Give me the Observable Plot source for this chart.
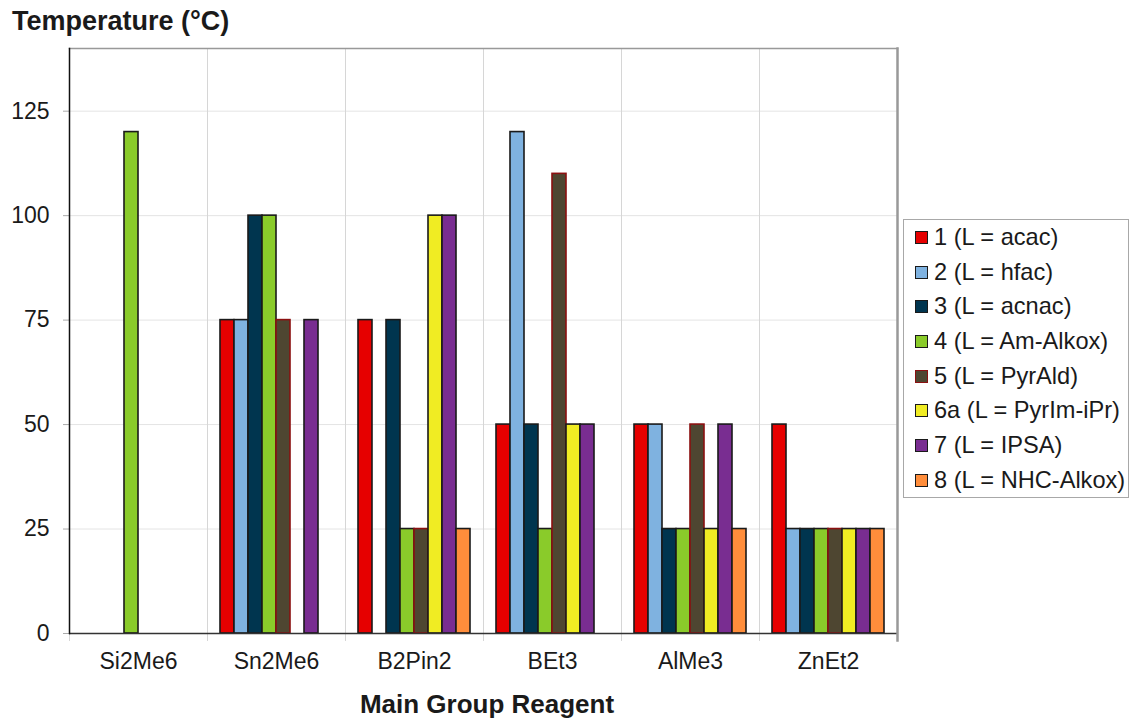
<!DOCTYPE html>
<html>
<head>
<meta charset="utf-8">
<script src="https://cdn.jsdelivr.net/npm/d3@7"></script>
<script src="https://cdn.jsdelivr.net/npm/@observablehq/plot@0.6"></script>
<style>
  body { margin: 0; background: #fff; }
  #chart {
    position: relative; width: 1130px; height: 719px; overflow: hidden;
    font-family: "Liberation Sans", Arial, sans-serif; color: #1a1a1a;
  }
  #chart svg { position: absolute; left: 0; top: 0; }
  .title {
    position: absolute; left: 12px; top: 8px; font-weight: bold;
    font-size: 27px; line-height: 27px; white-space: nowrap;
  }
  .xlabel {
    position: absolute; left: 287px; width: 400px; top: 691px; text-align: center;
    font-weight: bold; font-size: 26px; line-height: 26px; white-space: nowrap;
  }
  .legend {
    position: absolute; left: 903px; top: 219px; width: 224px; height: 277px;
    border: 1px solid #a8a8a8; background: #fff;
  }
  .legend .item {
    height: 34.7px; line-height: 34.7px; font-size: 23.6px; white-space: nowrap;
    display: flex; align-items: center;
  }
  .legend .sw {
    width: 11px; height: 11px; border: 1.5px solid #1a1a1a; margin: 0 6px 0 11px;
    flex: none;
  }
</style>
</head>
<body>
<div id="chart">
  <div class="title">Temperature (°C)</div>
  <div class="xlabel">Main Group Reagent</div>
</div>
<script>
// Main group reagents along the x axis
const reagents = ["Si2Me6", "Sn2Me6", "B2Pin2", "BEt3", "AlMe3", "ZnEt2"];

// Precursor series (ligand L)
const series = [
  "1 (L = acac)",
  "2 (L = hfac)",
  "3 (L = acnac)",
  "4 (L = Am-Alkox)",
  "5 (L = PyrAld)",
  "6a (L = PyrIm-iPr)",
  "7 (L = IPSA)",
  "8 (L = NHC-Alkox)"
];

// Temperature (°C) per reagent for each series; null = not tested
const acac     = [null,  75,  75,  50, 50, 50];
const hfac     = [null,  75, null, 120, 50, 25];
const acnac    = [null, 100,  75,  50, 25, 25];
const amAlkox  = [120,  100,  25,  25, 25, 25];
const pyrAld   = [null,  75,  25, 110, 50, 25];
const pyrImiPr = [null, null, 100,  50, 25, 25];
const ipsa     = [null,  75, 100,  50, 50, 25];
const nhcAlkox = [null, null,  25, null, 25, 25];

const yTicks = [0, 25, 50, 75, 100, 125];

// Fill and outline colours per series
const fills   = ["#e60000", "#7fb2e0", "#00354f", "#8acb2a", "#4e4631", "#f0ec23", "#792d91", "#ff8d3b"];
const strokes = ["#1a1a1a", "#1a1a1a", "#1a1a1a", "#1a1a1a", "#8b1010", "#1a1a1a", "#1a1a1a", "#1a1a1a"];

const seriesValues = [acac, hfac, acnac, amAlkox, pyrAld, pyrImiPr, ipsa, nhcAlkox];
const rows = [];
seriesValues.forEach((vals, si) => {
  vals.forEach((v, ri) => {
    if (v != null) rows.push({reagent: reagents[ri], series: series[si], value: v});
  });
});
const strokeOf = new Map(series.map((s, i) => [s, strokes[i]]));

const chart = Plot.plot({
  width: 1130,
  height: 719,
  marginLeft: 68,
  marginRight: 233,
  marginTop: 48,
  marginBottom: 86,
  style: {
    fontFamily: '"Liberation Sans", Arial, sans-serif',
    fontSize: "23px",
    color: "#1a1a1a",
    background: "transparent",
    overflow: "visible"
  },
  fx: {domain: reagents, padding: 0, label: null},
  x: {domain: series, paddingInner: 0, paddingOuter: 0.76, axis: null},
  y: {domain: [0, 140], label: null},
  color: {domain: series, range: fills},
  marks: [
    // horizontal grid
    Plot.gridY(yTicks.slice(1), {stroke: "#e4e4e4", strokeOpacity: 1}),
    // group separators, extending below the axis as ticks
    Plot.frame({anchor: "left", stroke: "#d6d6d6", insetBottom: -7}),
    Plot.barY(rows, {
      fx: "reagent",
      x: "series",
      y: "value",
      fill: "series",
      stroke: d => strokeOf.get(d.series),
      strokeWidth: 1.6
    }),
    Plot.ruleY([0], {stroke: "#333", strokeWidth: 1.5}),
    Plot.axisY({ticks: yTicks, tickSize: 6, tickPadding: 14, stroke: "#aaa", label: null}),
    Plot.axisFx({anchor: "bottom", tickSize: 0, tickPadding: 19, label: null}),
    // plot border
    Plot.frame({facet: "super", anchor: "top", stroke: "#999", strokeWidth: 1.5}),
    Plot.frame({facet: "super", anchor: "right", stroke: "#999", strokeWidth: 2.5, insetBottom: -7}),
    Plot.frame({facet: "super", anchor: "left", stroke: "#111", strokeWidth: 1.5})
  ]
});

document.getElementById("chart").prepend(chart);

// Legend
const legend = document.createElement("div");
legend.className = "legend";
series.forEach((s, i) => {
  const item = document.createElement("div");
  item.className = "item";
  const sw = document.createElement("span");
  sw.className = "sw";
  sw.style.background = fills[i];
  if (strokes[i] !== "#1a1a1a") sw.style.borderColor = strokes[i];
  const label = document.createElement("span");
  label.textContent = s;
  item.append(sw, label);
  legend.append(item);
});
document.getElementById("chart").append(legend);
</script>
</body>
</html>
